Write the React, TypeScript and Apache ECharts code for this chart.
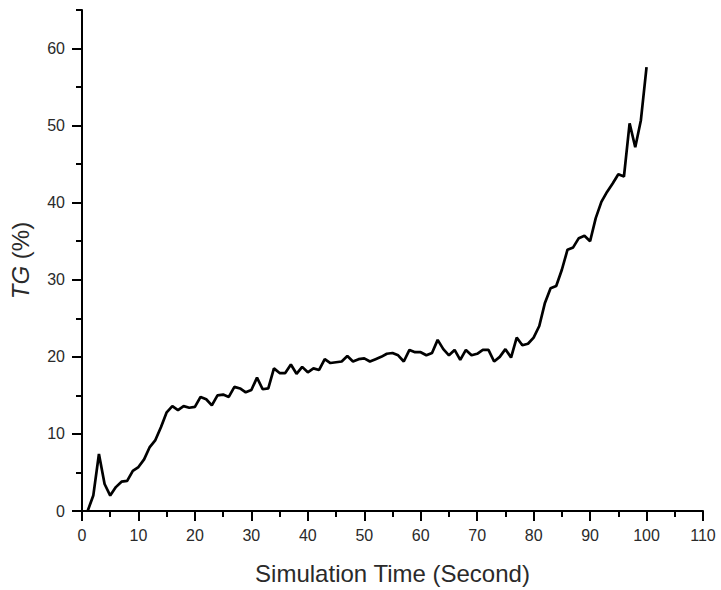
import React, { useEffect, useRef } from "react";
import * as echarts from "echarts";

const timeSec = [
  1, 2, 3, 4, 5, 6, 7, 8, 9, 10, 11, 12, 13, 14, 15, 16, 17, 18, 19, 20,
  21, 22, 23, 24, 25, 26, 27, 28, 29, 30, 31, 32, 33, 34, 35, 36, 37, 38, 39, 40,
  41, 42, 43, 44, 45, 46, 47, 48, 49, 50, 51, 52, 53, 54, 55, 56, 57, 58, 59, 60,
  61, 62, 63, 64, 65, 66, 67, 68, 69, 70, 71, 72, 73, 74, 75, 76, 77, 78, 79, 80,
  81, 82, 83, 84, 85, 86, 87, 88, 89, 90, 91, 92, 93, 94, 95, 96, 97, 98, 99, 100,
];

const tgPercent = [
  0, 2.0, 7.4, 3.5, 2.0, 3.1, 3.8, 3.9, 5.2, 5.7,
  6.7, 8.3, 9.2, 10.9, 12.8, 13.6, 13.1, 13.6, 13.4, 13.5,
  14.8, 14.5, 13.7, 15.0, 15.1, 14.8, 16.1, 15.9, 15.4, 15.7,
  17.3, 15.8, 15.9, 18.5, 17.9, 17.9, 19.0, 17.8, 18.7, 18.0,
  18.5, 18.3, 19.7, 19.2, 19.3, 19.4, 20.1, 19.4, 19.7, 19.8,
  19.4, 19.7, 20.0, 20.4, 20.5, 20.2, 19.4, 20.9, 20.6, 20.6,
  20.2, 20.5, 22.2, 21.0, 20.2, 20.9, 19.6, 20.9, 20.2, 20.4,
  20.9, 20.9, 19.4, 20.0, 21.0, 19.9, 22.5, 21.5, 21.7, 22.5,
  24.0, 27.0, 28.9, 29.2, 31.3, 33.9, 34.2, 35.4, 35.7, 35.0,
  38.0, 40.1, 41.4, 42.5, 43.7, 43.4, 50.3, 47.2, 50.7, 57.6,
];

const yMajorTicks = [0, 10, 20, 30, 40, 50, 60];

const FONT = "Liberation Sans, Arial, sans-serif";
const INK = "#000";
const TEXT = "#2a2a2a";

export default function App() {
  const ref = useRef<HTMLDivElement>(null);

  useEffect(() => {
    if (!ref.current) return;
    const chart = echarts.init(ref.current, undefined, { renderer: "svg" });
    chart.setOption({
      animation: false,
      backgroundColor: "#fff",
      grid: { left: 82, right: 18, top: 10, bottom: 78, containLabel: false },
      xAxis: {
        type: "value",
        min: 0,
        max: 110,
        interval: 10,
        name: "Simulation Time (Second)",
        nameLocation: "middle",
        nameGap: 50,
        nameTextStyle: { fontFamily: FONT, fontSize: 24, color: TEXT },
        axisLine: { show: true, onZero: false, lineStyle: { color: INK, width: 2 } },
        axisTick: { show: true, inside: false, length: 10, lineStyle: { color: INK, width: 2 } },
        minorTick: { show: true, splitNumber: 2, length: 6, lineStyle: { color: INK, width: 2 } },
        axisLabel: { margin: 16, fontFamily: FONT, fontSize: 16, color: TEXT },
        splitLine: { show: false },
        minorSplitLine: { show: false },
      },
      yAxis: [
        {
          type: "value",
          position: "left",
          min: 0,
          max: 65,
          interval: 10,
          name: "{i|TG} (%)",
          nameLocation: "middle",
          nameGap: 50,
          nameTextStyle: {
            fontFamily: FONT,
            fontSize: 24,
            color: TEXT,
            rich: { i: { fontStyle: "italic", fontFamily: FONT, fontSize: 24, color: TEXT } },
          },
          axisLine: { show: true, onZero: false, lineStyle: { color: INK, width: 2 } },
          axisTick: {
            show: true,
            inside: false,
            length: 10,
            customValues: yMajorTicks,
            lineStyle: { color: INK, width: 2 },
          },
          axisLabel: {
            margin: 17,
            fontFamily: FONT,
            fontSize: 16,
            color: TEXT,
            customValues: yMajorTicks,
          },
          splitLine: { show: false },
        },
        {
          type: "value",
          position: "left",
          offset: 0,
          min: 0,
          max: 65,
          interval: 5,
          axisLine: { show: false },
          axisTick: { show: true, inside: false, length: 6, lineStyle: { color: INK, width: 2 } },
          axisLabel: { show: false },
          splitLine: { show: false },
        },
      ],
      series: [
        {
          type: "line",
          data: timeSec.map((t, i) => [t, tgPercent[i]]),
          showSymbol: false,
          smooth: false,
          lineStyle: { color: "#000", width: 2.7 },
          z: 3,
        },
      ],
    });
    return () => chart.dispose();
  }, []);

  return (
    <div
      ref={ref}
      style={{ position: "fixed", left: 0, top: 0, width: 721, height: 590 }}
    />
  );
}
